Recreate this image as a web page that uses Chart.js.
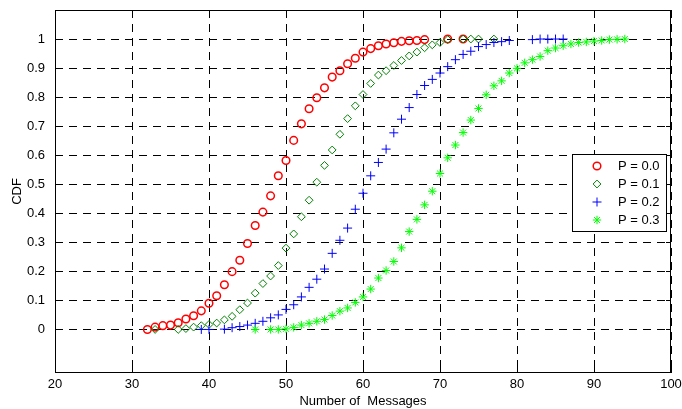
<!DOCTYPE html>
<html>
<head>
<meta charset="utf-8">
<script src="https://cdn.jsdelivr.net/npm/chart.js@4.4.1/dist/chart.umd.min.js"></script>
<style>
  html, body { margin: 0; padding: 0; background: #fff; }
  #wrap { width: 682px; height: 409px; }
</style>
</head>
<body>
<div id="wrap"><canvas id="cdf" width="682" height="409"></canvas></div>
<script>
const seriesLabels = ["P = 0.0", "P = 0.1", "P = 0.2", "P = 0.3"];

const xP00 = [32, 33, 34, 35, 36, 37, 38, 39, 40, 41, 42, 43, 44, 45, 46, 47, 48, 49, 50,
  51, 52, 53, 54, 55, 56, 57, 58, 59, 60, 61, 62, 63, 64, 65, 66, 67, 68, 71, 73];
const yP00 = [0.000, 0.008, 0.013, 0.015, 0.023, 0.036, 0.047, 0.064, 0.090, 0.116, 0.154,
  0.199, 0.238, 0.296, 0.358, 0.404, 0.460, 0.529, 0.582, 0.651, 0.708, 0.760, 0.798,
  0.832, 0.869, 0.891, 0.915, 0.934, 0.955, 0.967, 0.977, 0.983, 0.987, 0.992, 0.994,
  0.995, 0.998, 1.000, 1.000];

const xP01 = [33, 36, 37, 38, 39, 40, 41, 42, 43, 44, 45, 46, 47, 48, 49, 50, 51, 52, 53,
  54, 55, 56, 57, 58, 59, 60, 61, 62, 63, 64, 65, 66, 67, 68, 69, 70, 71, 73, 74, 75, 77];
const yP01 = [0.000, 0.000, 0.003, 0.008, 0.013, 0.017, 0.022, 0.033, 0.045, 0.068, 0.091,
  0.125, 0.158, 0.184, 0.220, 0.280, 0.329, 0.388, 0.445, 0.507, 0.565, 0.618, 0.672,
  0.726, 0.770, 0.809, 0.847, 0.876, 0.891, 0.909, 0.926, 0.942, 0.955, 0.970, 0.980,
  0.988, 0.998, 1.000, 1.000, 1.000, 1.000];

const xP02 = [39, 40, 42, 43, 44, 45, 46, 47, 48, 49, 50, 51, 52, 53, 54, 55, 56, 57, 58,
  59, 60, 61, 62, 63, 64, 65, 66, 67, 68, 69, 70, 71, 72, 73, 74, 75, 76, 77, 78, 79,
  82, 83, 84, 85, 86];
const yP02 = [0.000, 0.000, 0.001, 0.006, 0.010, 0.015, 0.021, 0.028, 0.040, 0.050, 0.069,
  0.085, 0.112, 0.145, 0.173, 0.208, 0.262, 0.307, 0.349, 0.414, 0.469, 0.529, 0.575,
  0.621, 0.677, 0.724, 0.764, 0.809, 0.840, 0.861, 0.883, 0.905, 0.929, 0.947, 0.958,
  0.974, 0.981, 0.988, 0.991, 0.995, 0.998, 1.000, 1.000, 1.000, 1.000];

const xP03 = [46, 48, 49, 50, 51, 52, 53, 54, 55, 56, 57, 58, 59, 60, 61, 62, 63, 64, 65,
  66, 67, 68, 69, 70, 71, 72, 73, 74, 75, 76, 77, 78, 79, 80, 81, 82, 83, 84, 85, 86,
  87, 88, 89, 90, 91, 92, 93, 94];
const yP03 = [0.000, 0.000, 0.000, 0.002, 0.007, 0.015, 0.021, 0.028, 0.034, 0.048, 0.063,
  0.074, 0.093, 0.112, 0.139, 0.177, 0.203, 0.234, 0.281, 0.337, 0.379, 0.429, 0.476,
  0.537, 0.591, 0.635, 0.678, 0.721, 0.761, 0.808, 0.839, 0.856, 0.883, 0.899, 0.918,
  0.929, 0.940, 0.960, 0.969, 0.977, 0.983, 0.988, 0.990, 0.993, 0.995, 0.998, 0.999,
  1.000];

const xTicks = [20, 30, 40, 50, 60, 70, 80, 90, 100];
const yTicks = [0, 0.1, 0.2, 0.3, 0.4, 0.5, 0.6, 0.7, 0.8, 0.9, 1];

const FONT = "'Liberation Sans', Arial, sans-serif";

const styles = [
  { color: "#ff0000", pointStyle: "circle", radius: 3.8, width: 1.5 },
  { color: "#008000", pointStyle: "rectRot", radius: 3.9, width: 1 },
  { color: "#0000ff", pointStyle: "cross", radius: 4.5, width: 1 },
  { color: "#00ff00", pointStyle: "star", radius: 4.2, width: 1 },
];

function toPoints(xs, ys) {
  return xs.map((x, i) => ({ x: x, y: ys[i] }));
}

const seriesX = [xP00, xP01, xP02, xP03];
const seriesY = [yP00, yP01, yP02, yP03];

const datasets = seriesLabels.map((label, i) => ({
  label: label,
  data: toPoints(seriesX[i], seriesY[i]),
  showLine: false,
  borderColor: styles[i].color,
  backgroundColor: "rgba(0,0,0,0)",
  pointStyle: styles[i].pointStyle,
  pointRadius: styles[i].radius,
  pointBorderWidth: styles[i].width,
  order: seriesLabels.length - i,
}));

// box around the axes plus the small inward tick marks
const framePlugin = {
  id: "frame",
  afterDatasetsDraw(chart) {
    const { ctx, chartArea: a, scales } = chart;
    ctx.save();
    ctx.setLineDash([]);
    ctx.strokeStyle = "#000";
    ctx.lineWidth = 1;
    ctx.strokeRect(a.left + 0.5, a.top + 0.5, a.right - a.left - 1, a.bottom - a.top - 1);
    const tl = 5;
    ctx.beginPath();
    scales.y.ticks.forEach((t) => {
      const py = Math.round(scales.y.getPixelForValue(t.value)) + 0.5;
      ctx.moveTo(a.left, py); ctx.lineTo(a.left + tl, py);
      ctx.moveTo(a.right, py); ctx.lineTo(a.right - tl, py);
    });
    scales.x.ticks.forEach((t) => {
      const px = Math.round(scales.x.getPixelForValue(t.value)) + 0.5;
      ctx.moveTo(px, a.bottom); ctx.lineTo(px, a.bottom - tl);
      ctx.moveTo(px, a.top); ctx.lineTo(px, a.top + tl);
    });
    ctx.stroke();
    ctx.restore();
  },
};

// legend box inside the plot, right side
const legendPlugin = {
  id: "boxLegend",
  afterDraw(chart) {
    const { ctx, chartArea: a } = chart;
    const w = 94, rowH = 18;
    const x0 = a.right - 5 - w, y0 = a.top + 144;
    const h = rowH * datasets.length + 5;
    ctx.save();
    ctx.fillStyle = "#fff";
    ctx.fillRect(x0, y0, w, h);
    ctx.strokeStyle = "#000";
    ctx.lineWidth = 1;
    ctx.strokeRect(x0 + 0.5, y0 + 0.5, w, h);
    ctx.font = "13px " + FONT;
    ctx.textBaseline = "middle";
    datasets.forEach((ds, i) => {
      const cy = y0 + 12 + i * rowH;
      ctx.strokeStyle = styles[i].color;
      ctx.fillStyle = "rgba(0,0,0,0)";
      ctx.lineWidth = styles[i].width;
      Chart.helpers.drawPoint(ctx, {
        pointStyle: styles[i].pointStyle,
        radius: styles[i].radius,
        rotation: 0,
        borderWidth: styles[i].width,
      }, x0 + 25, cy);
      ctx.fillStyle = "#000";
      ctx.fillText(ds.label, x0 + 46, cy + 0.5);
    });
    ctx.restore();
  },
};

new Chart(document.getElementById("cdf"), {
  type: "scatter",
  data: { datasets: datasets },
  options: {
    responsive: false,
    animation: false,
    devicePixelRatio: 1,
    layout: { padding: { top: 10, right: 11, left: 0, bottom: 0 } },
    plugins: { legend: { display: false }, tooltip: { enabled: false } },
    scales: {
      x: {
        type: "linear",
        min: 20,
        max: 100,
        afterBuildTicks: (s) => { s.ticks = xTicks.map((v) => ({ value: v })); },
        afterFit: (s) => { s.height = 36; s.paddingLeft = 0; s.paddingRight = 0; },
        ticks: { color: "#000", padding: 4, maxRotation: 0, font: { family: FONT, size: 13 } },
        grid: { color: "#000", lineWidth: 1, drawTicks: false },
        border: { display: false, dash: [8, 6] },
        title: {
          display: true,
          text: "Number of  Messages",
          color: "#000",
          padding: { top: 0, bottom: 0 },
          font: { family: FONT, size: 13 },
        },
      },
      y: {
        type: "linear",
        min: -0.15,
        max: 1.1,
        afterBuildTicks: (s) => { s.ticks = yTicks.map((v) => ({ value: v })); },
        afterFit: (s) => { s.width = 55; s.paddingTop = 0; s.paddingBottom = 0; },
        ticks: {
          color: "#000",
          padding: 10,
          font: { family: FONT, size: 13 },
          callback: (v) => String(Number(v.toFixed(1))),
        },
        grid: { color: "#000", lineWidth: 1, drawTicks: false },
        border: { display: false, dash: [8, 6] },
        title: {
          display: true,
          text: "CDF",
          color: "#000",
          padding: { top: 10, bottom: 0 },
          font: { family: FONT, size: 13 },
        },
      },
    },
  },
  plugins: [framePlugin, legendPlugin],
});
</script>
</body>
</html>
